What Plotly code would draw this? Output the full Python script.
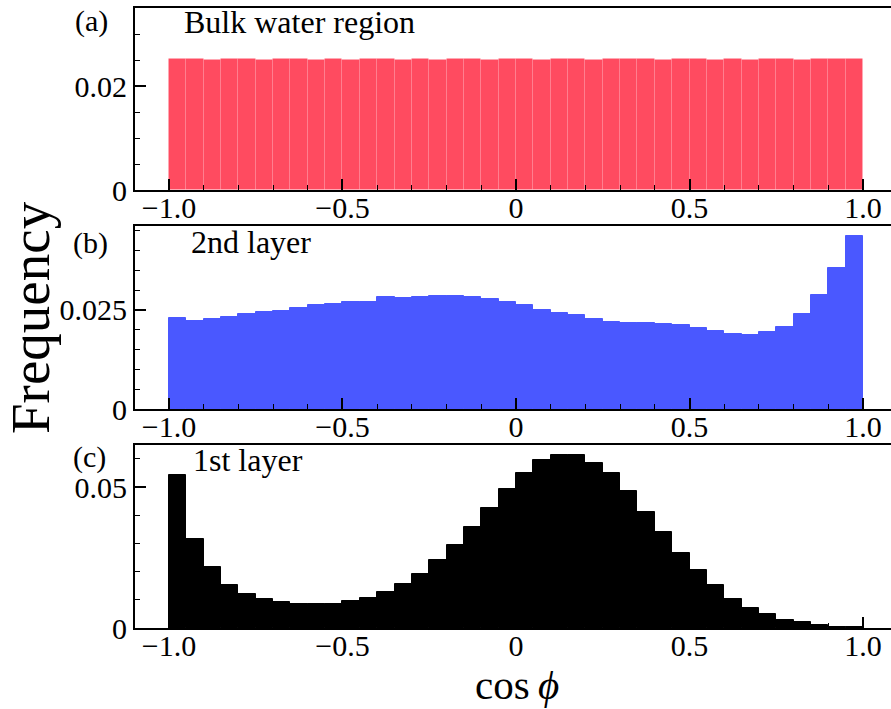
import numpy as np
import plotly.graph_objects as go

# 40 bins of width 0.05 on [-1, 1]
bin_edges = np.linspace(-1.0, 1.0, 41)
bin_centers = (bin_edges[:-1] + bin_edges[1:]) / 2
bin_width = 0.05

bulk_freq = [0.0251, 0.0251, 0.0250, 0.0251, 0.0251, 0.0250, 0.0251, 0.0251,
             0.0250, 0.0251, 0.0250, 0.0251, 0.0251, 0.0250, 0.0251, 0.0250,
             0.0251, 0.0251, 0.0250, 0.0251, 0.0251, 0.0250, 0.0251, 0.0251,
             0.0250, 0.0251, 0.0251, 0.0251, 0.0250, 0.0251, 0.0251, 0.0250,
             0.0251, 0.0250, 0.0251, 0.0251, 0.0250, 0.0251, 0.0251, 0.0251]

second_freq = [0.0229, 0.0223, 0.0227, 0.0232, 0.0240, 0.0246, 0.0248, 0.0255,
               0.0263, 0.0266, 0.0270, 0.0271, 0.0283, 0.0280, 0.0283, 0.0285,
               0.0285, 0.0283, 0.0278, 0.0271, 0.0263, 0.0250, 0.0242, 0.0237,
               0.0227, 0.0220, 0.0217, 0.0217, 0.0215, 0.0212, 0.0205, 0.0197,
               0.0189, 0.0187, 0.0194, 0.0207, 0.0240, 0.0288, 0.0356, 0.0437]

first_freq = [0.0544, 0.0317, 0.0215, 0.0154, 0.0122, 0.0104, 0.0091, 0.0086,
              0.0084, 0.0086, 0.0097, 0.0107, 0.0129, 0.0157, 0.0193, 0.0242,
              0.0295, 0.0359, 0.0427, 0.0494, 0.0550, 0.0596, 0.0613, 0.0613,
              0.0585, 0.0550, 0.0486, 0.0413, 0.0342, 0.0266, 0.0207, 0.0152,
              0.0104, 0.0071, 0.0048, 0.0029, 0.0020, 0.0012, 0.0005, 0.0003]

x_tickvals = [-1.0, -0.5, 0.0, 0.5, 1.0]
x_ticktext = ["\u22121.0", "\u22120.5", "0", "0.5", "1.0"]

panel_letters = ["(a)", "(b)", "(c)"]
panel_titles = ["Bulk water region", "2nd layer", "1st layer"]
y_tickvals = [[0, 0.02], [0, 0.025], [0, 0.05]]
y_ticktext = [["0", "0.02"], ["0", "0.025"], ["0", "0.05"]]
y_minor = [0.005, 0.005, 0.01]
y_ranges = [[0, 0.035], [0, 0.0462], [0, 0.0649]]
colors = ["#FF4B60", "#4A58FF", "#000000"]
series = [bulk_freq, second_freq, first_freq]

W, H = 891, 709
FONT = "Liberation Serif, Times New Roman, serif"

fig = go.Figure()

# panel pixel boxes (top, bottom)
panel_px = [(8, 190), (226, 409), (445, 628)]
x_left_px = 135

for i in range(3):
    xa = "x" if i == 0 else f"x{i+1}"
    ya = "y" if i == 0 else f"y{i+1}"
    line_col = "rgba(255,255,255,0.05)" if i == 0 else colors[i]
    fig.add_trace(go.Bar(
        x=bin_centers, y=series[i], width=bin_width,
        marker=dict(color=colors[i], line=dict(color=line_col, width=1)),
        xaxis=xa, yaxis=ya, showlegend=False,
    ))
    top, bot = panel_px[i]
    ydom = [1 - bot / H, 1 - top / H]
    axis_common = dict(
        showline=True, linecolor="black", linewidth=2,
        ticks="inside", tickcolor="black", tickwidth=1.5, ticklen=11,
        showgrid=False, zeroline=False, automargin=False,
        tickfont=dict(family=FONT, size=30, color="black"),
    )
    xkey = "xaxis" if i == 0 else f"xaxis{i+1}"
    ykey = "yaxis" if i == 0 else f"yaxis{i+1}"
    fig.update_layout(**{
        xkey: dict(
            axis_common, domain=[x_left_px / W, 1.0], anchor=ya,
            range=[-1.0977, 1.0806], mirror=True,
            tickvals=x_tickvals, ticktext=x_ticktext, ticklabelstandoff=-10,
            minor=dict(dtick=0.1, tick0=0, ticks="inside", ticklen=5,
                       tickwidth=1, tickcolor="black", showgrid=False),
        ),
        ykey: dict(
            axis_common, domain=ydom, anchor=xa, range=y_ranges[i],
            tickvals=y_tickvals[i], ticktext=y_ticktext[i],
            minor=dict(dtick=y_minor[i], tick0=0, ticks="inside", ticklen=5,
                       tickwidth=1, tickcolor="black", showgrid=False),
        ),
    })

annotations = []
letter_pos = [(91, 21), (90, 243), (89, 457)]
title_pos = [(182, 22), (189, 242), (191, 460)]
for i in range(3):
    lx, ly = letter_pos[i]
    annotations.append(dict(
        text=panel_letters[i], x=lx / W, y=1 - ly / H, xref="paper", yref="paper",
        xanchor="center", yanchor="middle", showarrow=False,
        font=dict(family=FONT, size=30, color="black")))
    tx, ty = title_pos[i]
    annotations.append(dict(
        text=panel_titles[i], x=tx / W, y=1 - ty / H, xref="paper", yref="paper",
        xanchor="left", yanchor="middle", showarrow=False,
        font=dict(family=FONT, size=32, color="black")))

annotations.append(dict(
    text="Frequency", x=30 / W, y=1 - 318 / H, xref="paper", yref="paper",
    xanchor="center", yanchor="middle", showarrow=False, textangle=-90,
    font=dict(family=FONT, size=55, color="black")))
annotations.append(dict(
    text="cos\u2009<i>\u03d5</i>", x=517 / W, y=1 - 685 / H, xref="paper", yref="paper",
    xanchor="center", yanchor="middle", showarrow=False,
    font=dict(family=FONT, size=41, color="black")))

fig.update_layout(
    template="none",
    width=W, height=H, margin=dict(l=0, r=0, t=0, b=0, pad=0),
    plot_bgcolor="white", paper_bgcolor="white",
    bargap=0, annotations=annotations,
    font=dict(family=FONT, color="black"),
)

fig.write_html("out.html")
